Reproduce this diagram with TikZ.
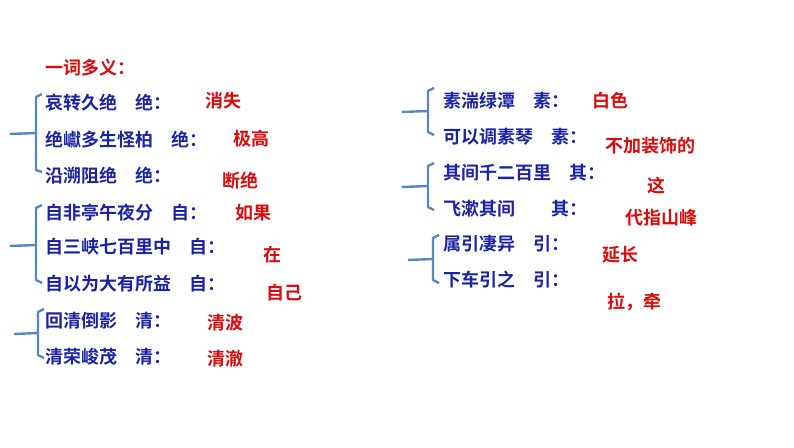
\documentclass[tikz,border=0pt]{standalone}
\usepackage{fontspec}
\setmainfont{Noto Sans CJK SC}[BoldFont={Noto Sans CJK SC Bold}]
\definecolor{tb}{RGB}{25,35,165}
\definecolor{tr}{RGB}{220,10,10}
\definecolor{br}{RGB}{85,135,195}
\begin{document}
\begin{tikzpicture}[x=1pt,y=-1pt,
  q/.style={anchor=west,inner sep=0,text=tb,font=\fontsize{18}{18}\selectfont\bfseries},
  a/.style={anchor=west,inner sep=0,text=tr,font=\fontsize{18}{18}\selectfont\bfseries},
  brk/.style={draw=br,line width=2.4pt,line join=round}]
\useasboundingbox (0,0) rectangle (794,447);
\node[a] (t) at (45,68) {一词多义：};
\node[q] (l1) at (45,103) {哀转久绝　绝：};
\node[a] (r1) at (205,101) {消失};
\node[q] (l2) at (45,140) {绝巘多生怪柏　绝：};
\node[a] (r2) at (233,139) {极高};
\node[q] (l3) at (45,176) {沿溯阻绝　绝：};
\node[a] (r3) at (222,181) {断绝};
\node[q] (l4) at (45,213) {自非亭午夜分　自：};
\node[a] (r4) at (235,213) {如果};
\node[q] (l5) at (45,247) {自三峡七百里中　自：};
\node[a] (r5) at (263,255) {在};
\node[q] (l6) at (45,284) {自以为大有所益　自：};
\node[a] (r6) at (266,293) {自己};
\node[q] (l7) at (45,321) {回清倒影　清：};
\node[a] (r7) at (207,323) {清波};
\node[q] (l8) at (45,357) {清荣峻茂　清：};
\node[a] (r8) at (207,359) {清澈};
\node[q] (m1) at (443,101) {素湍绿潭　素：};
\node[a] (s1) at (592,101) {白色};
\node[q] (m2) at (443,137) {可以调素琴　素：};
\node[a] (s2) at (605,146) {不加装饰的};
\node[q] (m3) at (443,173) {其间千二百里　其：};
\node[a] (s3) at (647,186) {这};
\node[q] (m4) at (443,209) {飞漱其间　　其：};
\node[a] (s4) at (625,218) {代指山峰};
\node[q] (m5) at (443,244) {属引凄异　引：};
\node[a] (s5) at (602,255) {延长};
\node[q] (m6) at (443,280) {下车引之　引：};
\node[a] (s6) at (607,302) {拉，牵};
% brackets
\draw[brk] (42,94)--(36,97)--(36,170)--(42,172);
\draw[brk] (10,134)--(36,133);
\draw[brk] (42,205)--(36,208)--(36,280)--(42,283);
\draw[brk] (10,246)--(36,245);
\draw[brk] (44,309)--(38,312)--(38,355)--(44,358);
\draw[brk] (14,334)--(38,333);
\draw[brk] (434,88)--(428,91)--(428,132)--(434,135);
\draw[brk] (402,112)--(428,111);
\draw[brk] (434,163)--(428,166)--(428,207)--(434,210);
\draw[brk] (402,187)--(428,186);
\draw[brk] (439,235)--(433,238)--(433,280)--(439,283);
\draw[brk] (408,260)--(433,259);
\end{tikzpicture}
\end{document}
